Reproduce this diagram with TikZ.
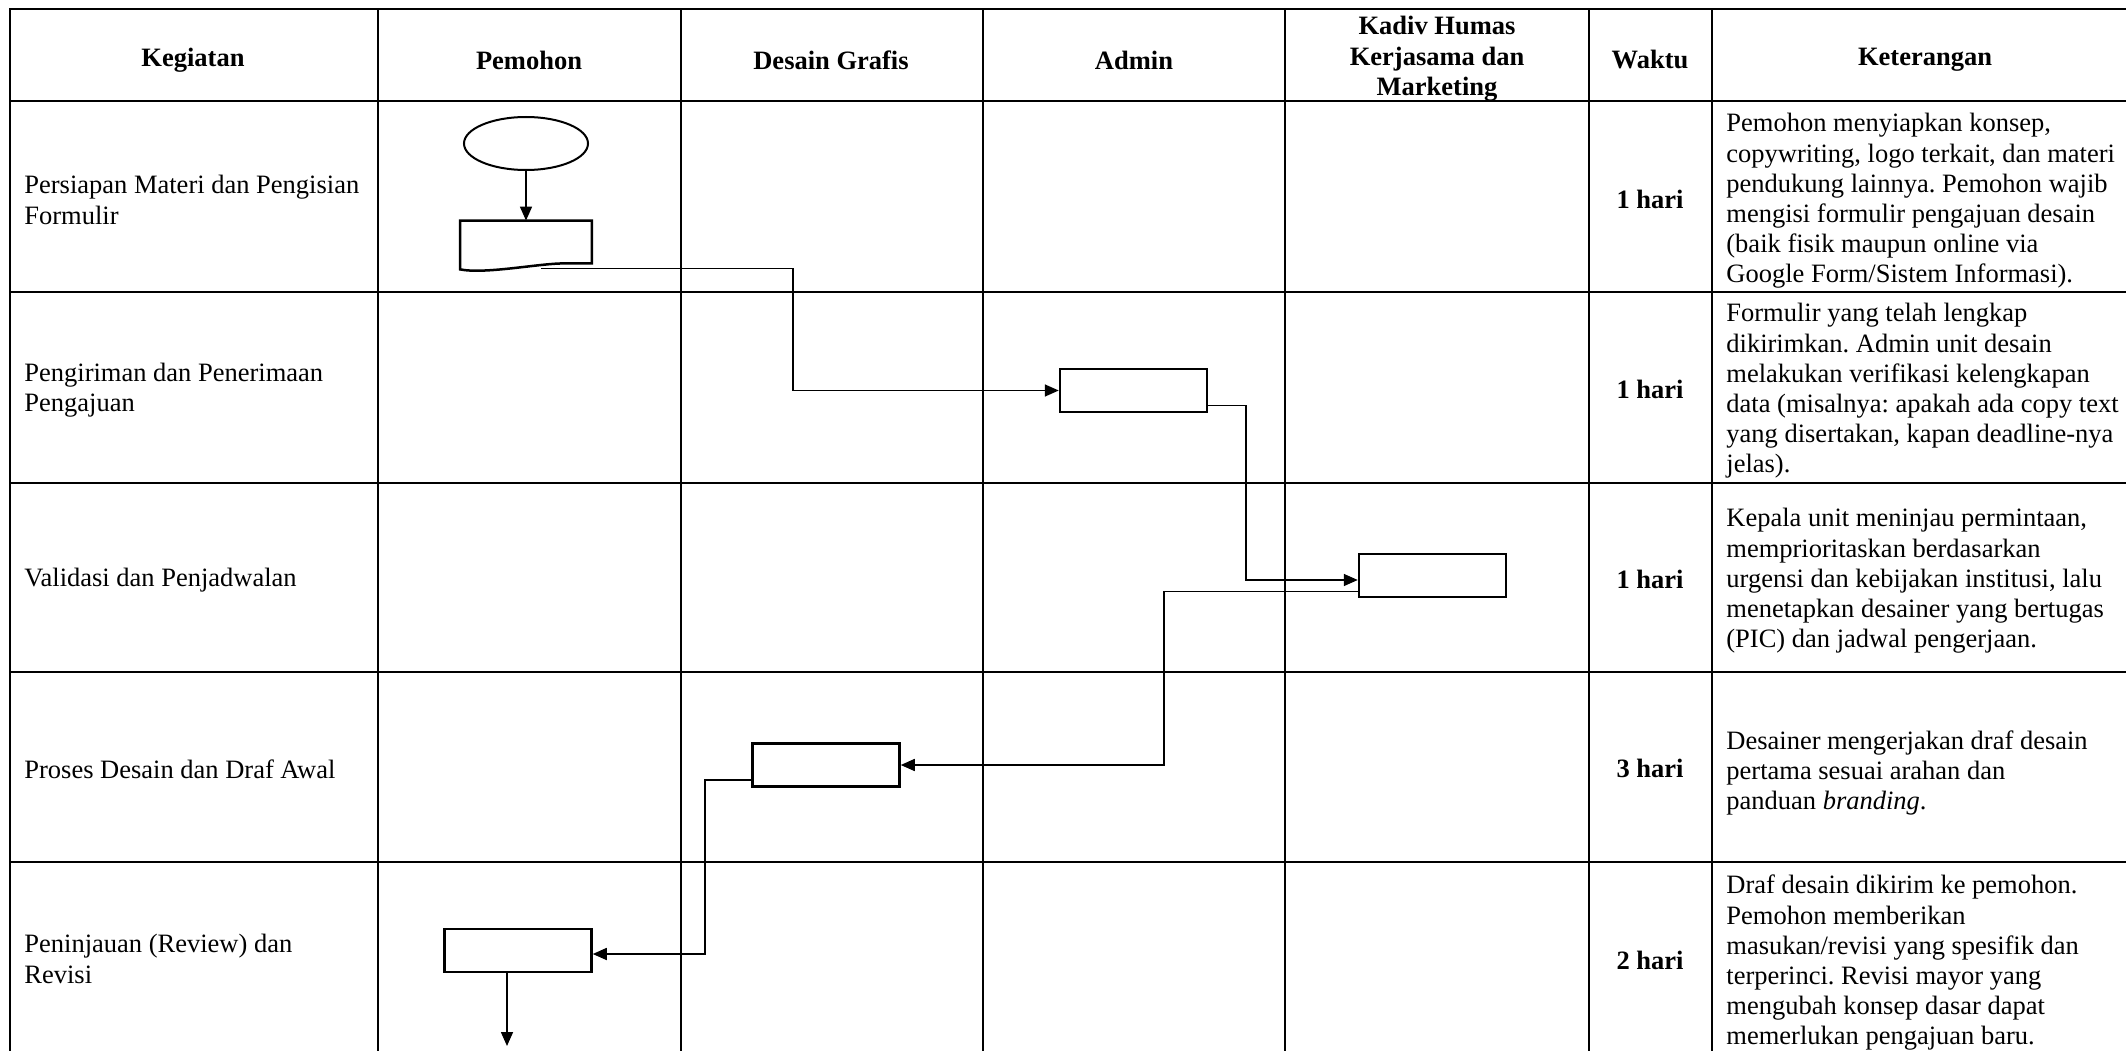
\documentclass[tikz,border=0pt]{standalone}
\usepackage{fontspec}
\setmainfont{Liberation Serif}
\usetikzlibrary{shapes,arrows.meta,positioning}
\frenchspacing

\begin{document}
\begin{tikzpicture}[x=1pt, y=-1pt, thick]
        % Define block styles
        \tikzstyle{tabline} = [line width=2pt]
        \tikzstyle{rowline} = [line width=2.8pt]
        \tikzstyle{headtext} = [font=\fontsize{26.5}{30.5}\selectfont\bfseries, align=center, inner sep=0pt]
        \tikzstyle{celltext} = [font=\fontsize{26.5}{30.2}\selectfont, align=left, anchor=west, inner sep=0pt]
        \tikzstyle{timetext} = [font=\fontsize{26.5}{30.2}\selectfont\bfseries, inner sep=0pt]
        \tikzstyle{startnode} = [ellipse, draw, line width=2pt, minimum width=124pt, minimum height=53pt]
        \tikzstyle{procnode} = [rectangle, draw, line width=2.5pt, minimum width=147pt, minimum height=43pt]
        \tikzstyle{docnode} = [rectangle, minimum width=131pt, minimum height=42pt]
        \tikzstyle{line} = [draw, line width=1.6pt, -{Triangle[length=14pt, width=12pt]}]

        \useasboundingbox (0,0) rectangle (2126,1051);

        % Table grid
        \draw[rowline] (9,9) -- (2126,9);
        \foreach \y in {101,292,483,672,862}
            \draw[rowline] (9,\y) -- (2126,\y);
        \foreach \x in {10,378,681,983,1285,1589,1712}
            \draw[tabline] (\x,9) -- (\x,1051);

        % Header
        \node[headtext] (hKeg) at (193,60) {Kegiatan};
        \node[headtext] (hPem) at (529,60) {Pemohon};
        \node[headtext] (hDes) at (831,60) {Desain Grafis};
        \node[headtext] (hAdm) at (1134,60) {Admin};
        \node[headtext] (hKad) at (1437,59) {Kadiv Humas\\Kerjasama dan\\Marketing};
        \node[headtext] (hWak) at (1650,60) {Waktu};
        \node[headtext] (hKet) at (1925,60) {Keterangan};

        % Kegiatan
        \node[celltext] (keg1) at (24,200) {Persiapan Materi dan Pengisian\\Formulir};
        \node[celltext] (keg2) at (24,390) {Pengiriman dan Penerimaan\\Pengajuan};
        \node[celltext] (keg3) at (24,580) {Validasi dan Penjadwalan};
        \node[celltext] (keg4) at (24,769) {Proses Desain dan Draf Awal};
        \node[celltext] (keg5) at (24,959) {Peninjauan (Review) dan\\Revisi};

        % Waktu
        \node[timetext] (wkt1) at (1650,199) {1 hari};
        \node[timetext] (wkt2) at (1650,389) {1 hari};
        \node[timetext] (wkt3) at (1650,579) {1 hari};
        \node[timetext] (wkt4) at (1650,768) {3 hari};
        \node[timetext] (wkt5) at (1650,960) {2 hari};

        % Keterangan
        \node[celltext] (ket1) at (1726,201) {Pemohon menyiapkan konsep,\\copywriting, logo terkait, dan materi\\pendukung lainnya. Pemohon wajib\\mengisi formulir pengajuan desain\\(baik fisik maupun online via\\Google Form/Sistem Informasi).};
        \node[celltext] (ket2) at (1726,391) {Formulir yang telah lengkap\\dikirimkan. Admin unit desain\\melakukan verifikasi kelengkapan\\data (misalnya: apakah ada copy text\\yang disertakan, kapan deadline-nya\\jelas).};
        \node[celltext] (ket3) at (1726,581) {Kepala unit meninjau permintaan,\\memprioritaskan berdasarkan\\urgensi dan kebijakan institusi, lalu\\menetapkan desainer yang bertugas\\(PIC) dan jadwal pengerjaan.};
        \node[celltext] (ket4) at (1726,773) {Desainer mengerjakan draf desain\\pertama sesuai arahan dan\\panduan \textit{branding}.};
        \node[celltext] (ket5) at (1726,963) {Draf desain dikirim ke pemohon.\\Pemohon memberikan\\masukan/revisi yang spesifik dan\\terperinci. Revisi mayor yang\\mengubah konsep dasar dapat\\memerlukan pengajuan baru.};

        % Define nodes
        \node[startnode] (mulai) at (526,143.5) {};
        \node[docnode] (form) at (526,242) {};
        \node[procnode] (adm) at (1133.5,390.5) {};
        \node[procnode] (kad) at (1432.5,575.5) {};
        \node[procnode] (des) at (826,765) {};
        \node[procnode] (rev) at (518,950.5) {};
        \coordinate (lanjut) at (507,1046);

        % Document outline
        \draw[line width=2.5pt] (form.south east) -- (form.north east) -- (form.north west)
            -- ([yshift=-6pt]form.south west) .. controls +(25,5) and +(-25,0) .. ([xshift=-28pt]form.south east) -- cycle;

        % Connect nodes with paths
        \draw[line] (mulai) -- (form);
        \draw[line] ([shift={(15pt,-5pt)}]form.south) -- ++(252,0) |- (adm.west);
        \draw[line] ([yshift=-15pt]adm.east) -- ++(38,0) |- ([yshift=-4.5pt]kad.west);
        \draw[line] ([yshift=-16pt]kad.west) -- ++(-194,0) |- (des.east);
        \draw[line] ([yshift=-15pt]des.west) -- ++(-46,0) |- ([yshift=-3.5pt]rev.east);
        \draw[line] (rev.south -| lanjut) -- (lanjut);

    \end{tikzpicture}
\end{document}
